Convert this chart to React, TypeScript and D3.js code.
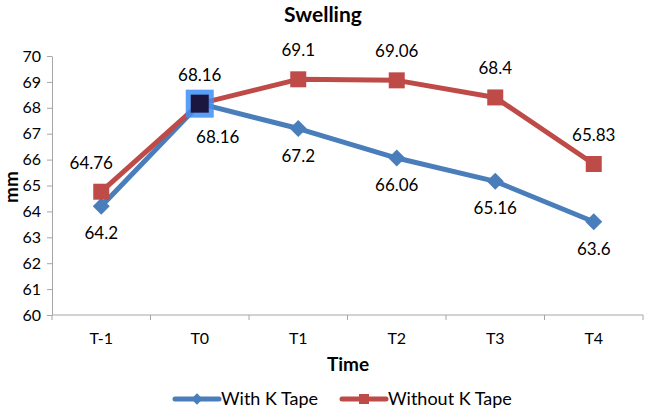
import React, { useRef, useEffect } from 'react';
import * as d3 from 'd3';

const categories = ['T-1', 'T0', 'T1', 'T2', 'T3', 'T4'];
const withTape = [64.2, 68.16, 67.2, 66.06, 65.16, 63.6];
const withoutTape = [64.76, 68.16, 69.1, 69.06, 68.4, 65.83];
const yTicks = [60, 61, 62, 63, 64, 65, 66, 67, 68, 69, 70];

const BLUE = '#4a7ebb';
const RED = '#be4b48';
const FONT = 'Lato, "Open Sans", sans-serif';

// label nudges for a couple of points that sit off-centre in the original
const blueNudge: Record<number, [number, number]> = { 1: [18, 6] };
const redNudge: Record<number, [number, number]> = { 0: [-10, 0] };

const Chart = () => {
  const ref = useRef<SVGSVGElement>(null);

  useEffect(() => {
    const svg = d3.select(ref.current);
    svg.selectAll('*').remove();

    const x = d3.scaleBand().domain(categories).range([52, 643]);
    const y = d3.scaleLinear().domain([60, 70]).range([315, 56]);
    const cx = (c: string) => (x(c) as number) + x.bandwidth() / 2;

    // title
    svg.append('text')
      .attr('x', 323).attr('y', 22)
      .attr('text-anchor', 'middle')
      .style('font', `bold 21px ${FONT}`)
      .text('Swelling');

    // y axis
    const yAxis = svg.append('g')
      .attr('transform', 'translate(52,0)')
      .call(d3.axisLeft(y).tickValues(yTicks).tickSize(5).tickPadding(6).tickSizeOuter(0));
    yAxis.select('.domain').attr('stroke', '#a6a6a6');
    yAxis.selectAll('.tick line').attr('stroke', '#a6a6a6');
    yAxis.selectAll('.tick text')
      .style('font', `16px ${FONT}`).attr('fill', '#000');

    svg.append('text')
      .attr('transform', 'translate(18,187) rotate(-90)')
      .attr('text-anchor', 'middle')
      .style('font', `bold 19px ${FONT}`)
      .text('mm');

    // x axis
    const xAxis = svg.append('g').attr('transform', 'translate(0,315)');
    xAxis.append('line')
      .attr('x1', 52).attr('x2', 643)
      .attr('stroke', '#a6a6a6');
    const edges = categories.map(c => x(c) as number).concat([x.range()[1]]);
    xAxis.selectAll('line.tk').data(edges).enter().append('line')
      .attr('class', 'tk')
      .attr('x1', d => d).attr('x2', d => d)
      .attr('y1', 0).attr('y2', 5)
      .attr('stroke', '#a6a6a6');
    xAxis.selectAll('text').data(categories).enter().append('text')
      .attr('x', d => cx(d)).attr('y', 29)
      .attr('text-anchor', 'middle')
      .style('font', `16px ${FONT}`).attr('fill', '#000')
      .text(d => d);

    svg.append('text')
      .attr('x', 348).attr('y', 371)
      .attr('text-anchor', 'middle')
      .style('font', `bold 19px ${FONT}`)
      .text('Time');

    const line = d3.line<number>()
      .x((_, i) => cx(categories[i]))
      .y(d => y(d));

    // blue series
    svg.append('path').datum(withTape)
      .attr('d', line).attr('fill', 'none')
      .attr('stroke', BLUE).attr('stroke-width', 5).attr('stroke-linejoin', 'round');
    svg.selectAll('rect.bm').data(withTape).enter().append('rect')
      .attr('class', 'bm')
      .attr('x', -6).attr('y', -6).attr('width', 12).attr('height', 12)
      .attr('transform', (d, i) => `translate(${cx(categories[i])},${y(d)}) rotate(45)`)
      .attr('fill', BLUE);

    // red series
    svg.append('path').datum(withoutTape)
      .attr('d', line).attr('fill', 'none')
      .attr('stroke', RED).attr('stroke-width', 5).attr('stroke-linejoin', 'round');
    svg.selectAll('rect.rm').data(withoutTape).enter().append('rect')
      .attr('class', 'rm')
      .attr('x', (d, i) => cx(categories[i]) - 8).attr('y', d => y(d) - 8)
      .attr('width', 16).attr('height', 16)
      .attr('fill', RED);

    // selected point highlight at T0
    const hx = cx(categories[1]);
    const hy = y(withTape[1]);
    svg.append('rect')
      .attr('x', hx - 14).attr('y', hy - 14).attr('width', 28).attr('height', 28)
      .attr('fill', '#3d8ef5').attr('opacity', 0.85);
    svg.append('rect')
      .attr('x', hx - 9).attr('y', hy - 9).attr('width', 18).attr('height', 18)
      .attr('fill', '#1b1640');

    // data labels
    svg.selectAll('text.bl').data(withTape).enter().append('text')
      .attr('class', 'bl')
      .attr('x', (d, i) => cx(categories[i]) + (blueNudge[i]?.[0] ?? 0))
      .attr('y', (d, i) => y(d) + 33 + (blueNudge[i]?.[1] ?? 0))
      .attr('text-anchor', 'middle')
      .style('font', `17px ${FONT}`).attr('fill', '#000')
      .text(d => String(d));
    svg.selectAll('text.rl').data(withoutTape).enter().append('text')
      .attr('class', 'rl')
      .attr('x', (d, i) => cx(categories[i]) + (redNudge[i]?.[0] ?? 0))
      .attr('y', (d, i) => y(d) - 23 + (redNudge[i]?.[1] ?? 0))
      .attr('text-anchor', 'middle')
      .style('font', `17px ${FONT}`).attr('fill', '#000')
      .text(d => String(d));

    // legend
    const legend = [
      { name: 'With K Tape', color: BLUE, x: 175, shape: 'diamond' },
      { name: 'Without K Tape', color: RED, x: 342, shape: 'square' },
    ];
    const lg = svg.selectAll('g.lg').data(legend).enter().append('g')
      .attr('class', 'lg')
      .attr('transform', d => `translate(${d.x},399)`);
    lg.append('line')
      .attr('x1', 0).attr('x2', 44)
      .attr('stroke', d => d.color).attr('stroke-width', 5).attr('stroke-linecap', 'round');
    lg.append('rect')
      .attr('x', d => d.shape === 'diamond' ? -4 : 17)
      .attr('y', d => d.shape === 'diamond' ? -4 : -5)
      .attr('width', d => d.shape === 'diamond' ? 8 : 10)
      .attr('height', d => d.shape === 'diamond' ? 8 : 10)
      .attr('transform', d => d.shape === 'diamond' ? 'translate(22,0) rotate(45)' : null)
      .attr('fill', d => d.color);
    lg.append('text')
      .attr('x', 46).attr('y', 6)
      .style('font', `18px ${FONT}`).attr('fill', '#000')
      .text(d => d.name);
  }, []);

  return (
    <svg ref={ref} width="645" height="410"
      style={{ position: 'absolute', left: 0, top: 0, background: '#fff' }} />
  );
};

export default function App() {
  return <Chart />;
}
